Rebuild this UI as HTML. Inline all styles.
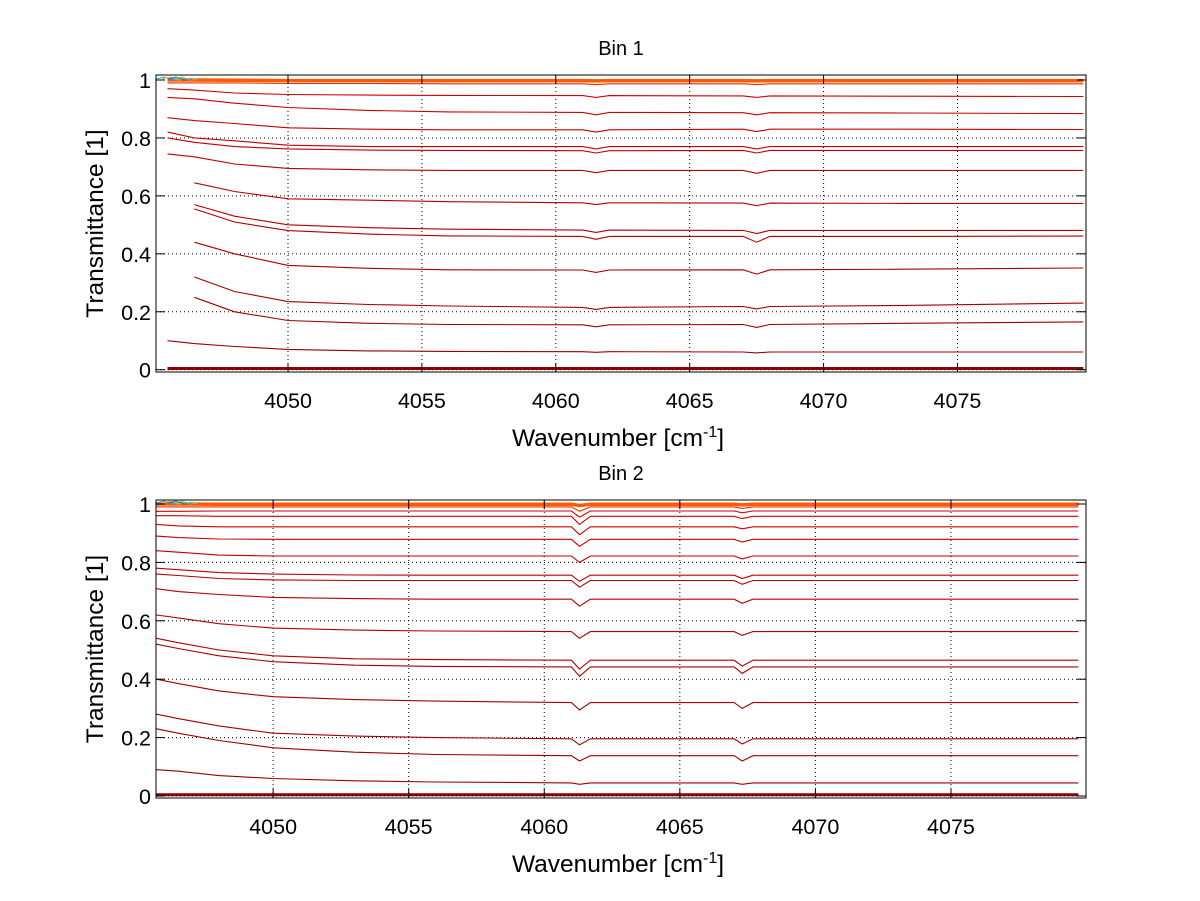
<!DOCTYPE html>
<html><head><meta charset="utf-8"><style>
html,body{margin:0;padding:0;background:#fff;}
svg{display:block;font-family:"Liberation Sans",sans-serif;}
</style></head><body>
<svg id="fig" width="1200" height="901" viewBox="0 0 1200 901" xmlns="http://www.w3.org/2000/svg">
<rect width="1200" height="901" fill="#fff"/>
</svg>
<script>
// ---- data ----
const wn1 = [4045.5,4046.5,4048,4050,4053,4056,4061,4061.5,4062,4067,4067.5,4068,4073,4079.7];
const wn2 = [4045.7,4046.5,4048,4050,4053,4056,4061,4061.3,4061.7,4067,4067.3,4067.7,4073,4079.7];
const bin1Series = [
 [1.0,1.0,0.999,0.998,0.998,0.998,0.998,0.997,0.998,0.998,0.997,0.998,0.998,0.998],
 [0.99,0.99,0.99,0.988,0.988,0.987,0.987,0.984,0.987,0.987,0.984,0.987,0.987,0.987],
 [0.97,0.965,0.955,0.95,0.948,0.947,0.946,0.94,0.946,0.945,0.94,0.945,0.944,0.943],
 [0.94,0.935,0.92,0.905,0.895,0.89,0.888,0.88,0.888,0.887,0.88,0.887,0.886,0.884],
 [0.87,0.86,0.85,0.835,0.83,0.828,0.828,0.82,0.828,0.83,0.822,0.83,0.83,0.829],
 [0.82,0.80,0.79,0.775,0.77,0.77,0.77,0.762,0.77,0.77,0.762,0.77,0.77,0.770],
 [0.80,0.785,0.77,0.762,0.758,0.757,0.756,0.748,0.756,0.757,0.748,0.757,0.757,0.757],
 [0.745,0.735,0.71,0.695,0.69,0.688,0.688,0.68,0.688,0.688,0.678,0.688,0.688,0.688],
 [null,0.645,0.615,0.59,0.585,0.58,0.576,0.57,0.576,0.575,0.566,0.575,0.574,0.574],
 [null,0.57,0.53,0.5,0.49,0.485,0.482,0.474,0.482,0.481,0.47,0.481,0.481,0.481],
 [null,0.555,0.51,0.48,0.468,0.462,0.46,0.45,0.46,0.46,0.44,0.46,0.46,0.461],
 [null,0.44,0.4,0.36,0.35,0.345,0.344,0.336,0.344,0.345,0.33,0.345,0.347,0.351],
 [null,0.32,0.27,0.235,0.225,0.22,0.215,0.208,0.215,0.218,0.21,0.218,0.222,0.230],
 [null,0.25,0.2,0.17,0.16,0.156,0.155,0.148,0.155,0.156,0.146,0.156,0.16,0.165],
 [0.10,0.09,0.08,0.07,0.065,0.063,0.062,0.06,0.062,0.061,0.058,0.061,0.061,0.061],
 [0.004,0.004,0.004,0.004,0.004,0.004,0.004,0.004,0.004,0.004,0.004,0.004,0.004,0.004]
];
const bin2Series = [
 [1.0,1.0,0.999,0.999,0.999,0.999,0.999,0.995,0.999,0.999,0.997,0.999,0.999,0.999],
 [0.99,0.99,0.99,0.99,0.99,0.99,0.99,0.975,0.99,0.99,0.985,0.99,0.99,0.99],
 [0.975,0.975,0.976,0.976,0.976,0.976,0.976,0.955,0.976,0.976,0.97,0.976,0.976,0.976],
 [0.96,0.96,0.958,0.958,0.958,0.958,0.958,0.93,0.958,0.958,0.95,0.958,0.958,0.958],
 [0.93,0.925,0.922,0.922,0.922,0.922,0.922,0.895,0.922,0.922,0.915,0.922,0.922,0.922],
 [0.89,0.885,0.88,0.879,0.879,0.879,0.879,0.855,0.879,0.879,0.87,0.879,0.879,0.879],
 [0.84,0.835,0.825,0.822,0.822,0.822,0.822,0.8,0.822,0.822,0.812,0.822,0.822,0.822],
 [0.78,0.775,0.765,0.76,0.757,0.756,0.756,0.735,0.756,0.756,0.745,0.756,0.756,0.756],
 [0.76,0.755,0.745,0.74,0.738,0.738,0.738,0.715,0.738,0.738,0.725,0.738,0.738,0.738],
 [0.71,0.70,0.69,0.68,0.676,0.674,0.674,0.65,0.674,0.674,0.66,0.674,0.674,0.674],
 [0.62,0.61,0.59,0.575,0.568,0.565,0.563,0.54,0.563,0.563,0.55,0.563,0.563,0.563],
 [0.54,0.525,0.5,0.48,0.47,0.467,0.465,0.435,0.465,0.465,0.445,0.465,0.465,0.465],
 [0.52,0.505,0.48,0.46,0.448,0.444,0.442,0.41,0.442,0.442,0.42,0.442,0.442,0.442],
 [0.40,0.385,0.36,0.34,0.33,0.325,0.32,0.295,0.32,0.32,0.3,0.32,0.32,0.32],
 [0.28,0.265,0.24,0.215,0.205,0.2,0.196,0.175,0.196,0.196,0.178,0.196,0.196,0.196],
 [0.23,0.215,0.19,0.165,0.15,0.142,0.138,0.12,0.138,0.138,0.12,0.138,0.138,0.138],
 [0.09,0.085,0.07,0.06,0.052,0.048,0.045,0.04,0.045,0.045,0.04,0.045,0.045,0.045],
 [0.004,0.004,0.004,0.004,0.004,0.004,0.004,0.004,0.004,0.004,0.004,0.004,0.004,0.004]
];
const xTicks = [4050,4055,4060,4065,4070,4075];
const yTicks = [0,0.2,0.4,0.6,0.8,1];
const yTickLabels = ["0","0.2","0.4","0.6","0.8","1"];

const NS = "http://www.w3.org/2000/svg";
const svg = document.getElementById('fig');
function mk(tag, attrs, parent){const e=document.createElementNS(NS,tag);for(const k in attrs)e.setAttribute(k,attrs[k]);(parent||svg).appendChild(e);return e;}

function panel(cfg, wn, series, idx){
  const g = mk('g',{});
  
  
  const X = v => cfg.left + (v-cfg.xmin)/(cfg.xmax-cfg.xmin)*(cfg.right-cfg.left);
  const Y = v => cfg.y0 + (cfg.y1-cfg.y0)*v;
  xTicks.forEach(t=>{const l=mk('line',{x1:X(t),x2:X(t),y1:cfg.top,y2:cfg.bottom,stroke:'#000','stroke-width':1,'stroke-dasharray':'1,3'},g);
    });
  yTicks.forEach(t=>{const l=mk('line',{x1:cfg.left,x2:cfg.right,y1:Y(t),y2:Y(t),stroke:'#000','stroke-width':1,'stroke-dasharray':'1,3'},g);
    });
  const clipId='clip'+idx;
  const cp=mk('clipPath',{id:clipId},g);mk('rect',{x:cfg.left,y:cfg.top,width:cfg.right-cfg.left,height:cfg.bottom-cfg.top},cp);
  const sg=mk('g',{'clip-path':'url(#'+clipId+')'},g);
  const n=series.length;
  series.forEach((s,i)=>{
    let d='';let started=false;
    s.forEach((v,j)=>{if(v===null)return;d+=(started?'L':'M')+X(wn[j]).toFixed(1)+','+Y(v).toFixed(1);started=true;});
    const f=(n-1-i)/(n-1);
    let col;
    if(i===0) col='#ff5a00'; else if(i===1) col='#f02a00'; else if(i===n-1) col='#8a0000';
    else {const r=Math.round(150+f*70);col='rgb('+r+',0,0)';}
    const p=mk('path',{d:d,fill:'none',stroke:col,'stroke-width':(i===0?3.5:(i===n-1?3:1.1))},sg);
    
    
  });
  ['#00b0e0','#e0c000','#3050ff','#60d060'].forEach((c,k)=>{
    const q=mk('path',{d:'M'+(X(cfg.xmin)+k*6)+','+(Y(1)-1)+' l8,-2 l8,3 l8,-1',fill:'none',stroke:c,'stroke-width':1},sg);
    
  });
  const b=mk('rect',{x:cfg.left,y:cfg.top,width:cfg.right-cfg.left,height:cfg.bottom-cfg.top,fill:'none',stroke:'#000','stroke-width':1},g);
  
  xTicks.forEach(t=>{
    mk('line',{x1:X(t),x2:X(t),y1:cfg.bottom,y2:cfg.bottom-9,stroke:'#000'},g);
    mk('line',{x1:X(t),x2:X(t),y1:cfg.top,y2:cfg.top+9,stroke:'#000'},g);
    const tx=mk('text',{x:X(t),y:cfg.bottom+36,'text-anchor':'middle','font-size':21.5,fill:'#000'},g);tx.textContent=t;
    
  });
  yTicks.forEach((t,k)=>{
    mk('line',{x1:cfg.left,x2:cfg.left+9,y1:Y(t),y2:Y(t),stroke:'#000'},g);
    mk('line',{x1:cfg.right,x2:cfg.right-9,y1:Y(t),y2:Y(t),stroke:'#000'},g);
    const tx=mk('text',{x:cfg.left-5,y:Y(t)+8,'text-anchor':'end','font-size':21.5,fill:'#000'},g);tx.textContent=yTickLabels[k];
    
  });
  const ti=mk('text',{x:(cfg.left+cfg.right)/2,y:cfg.top-20,'text-anchor':'middle','font-size':20,fill:'#000'},g);ti.textContent='Bin '+idx;
  
  const xl=mk('text',{x:618,y:cfg.bottom+74,'text-anchor':'middle','font-size':24.5,fill:'#000'},g);
  xl.innerHTML='Wavenumber [cm<tspan dy="-9" font-size="16">-1</tspan><tspan dy="9">]</tspan>';
  
  const cy=(cfg.top+cfg.bottom)/2;
  const yl=mk('text',{x:103,y:cy,'text-anchor':'middle','font-size':24.5,fill:'#000',transform:'rotate(-90 103 '+cy+')'},g);
  yl.textContent='Transmittance [1]';
  
}
panel({left:156,right:1086,top:75,bottom:372,xmin:4045.07,xmax:4079.8,y0:369.7,y1:80},wn1,bin1Series,1);
panel({left:156,right:1086,top:500,bottom:798,xmin:4045.68,xmax:4079.98,y0:796,y1:504},wn2,bin2Series,2);
</script>
</body></html>
